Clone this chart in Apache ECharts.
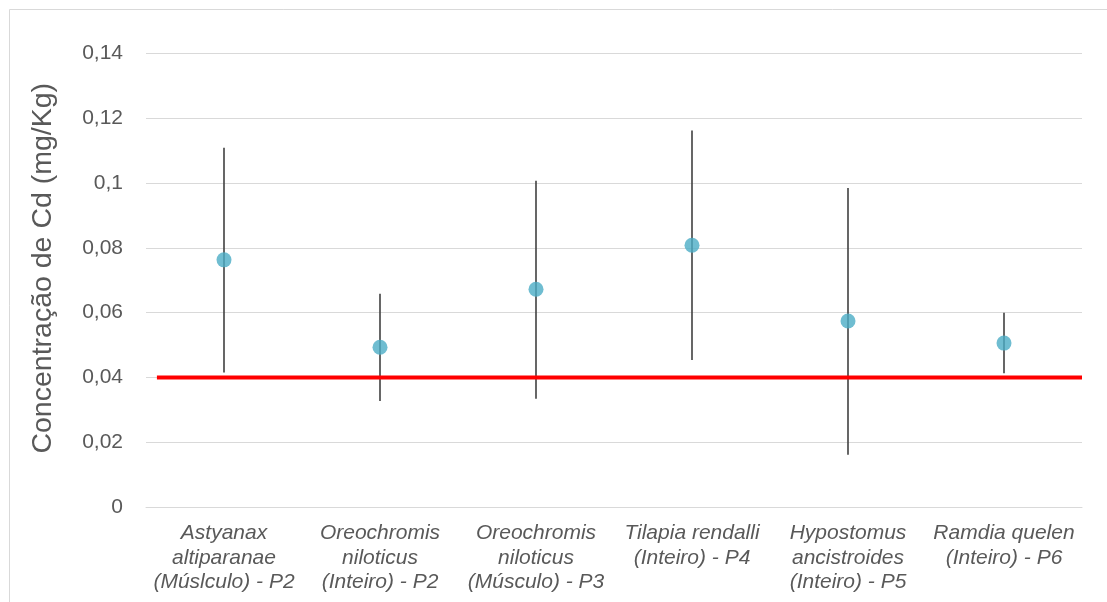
<!DOCTYPE html>
<html>
<head>
<meta charset="utf-8">
<script src="https://cdn.jsdelivr.net/npm/echarts@6/dist/echarts.min.js"></script>
<style>
  html, body { margin: 0; padding: 0; background: #ffffff; }
  #chart { width: 1107px; height: 602px; }
</style>
</head>
<body>
<div id="chart"></div>
<script>
// Species / tissue / sampling point
const categories = [
  'Astyanax\naltiparanae\n(Múslculo) - P2',
  'Oreochromis\nniloticus\n(Inteiro) - P2',
  'Oreochromis\nniloticus\n(Músculo) - P3',
  'Tilapia rendalli\n(Inteiro) - P4',
  'Hypostomus\nancistroides\n(Inteiro) - P5',
  'Ramdia quelen\n(Inteiro) - P6'
];
// Mean Cd concentration (mg/Kg)
const means = [0.0763, 0.0493, 0.0672, 0.0808, 0.0574, 0.0506];
// Lower and upper ends of the error bars
const lows  = [0.0415, 0.0327, 0.0334, 0.0454, 0.0161, 0.0413];
const highs = [0.1109, 0.0658, 0.1007, 0.1162, 0.0985, 0.0600];
// Reference limit for Cd
const limit = 0.04;
// Y axis ticks
const yMin = 0, yMax = 0.14, yStep = 0.02;

const textColor = '#595959';
const fontFamily = '"Liberation Sans", Arial, sans-serif';

const chart = echarts.init(document.getElementById('chart'), null, { renderer: 'canvas' });

const errorData = categories.map((c, i) => [i, lows[i], highs[i]]);

chart.setOption({
  animation: false,
  backgroundColor: '#ffffff',
  textStyle: { fontFamily: fontFamily },
  graphic: [{
    type: 'polyline',
    shape: { points: [[9.5, 602], [9.5, 9.5], [1107, 9.5]] },
    style: { stroke: '#d9d9d9', lineWidth: 1, fill: null },
    silent: true
  }],
  grid: { left: 146, right: 25, top: 53.5, bottom: 95, containLabel: false },
  xAxis: [{
    type: 'category',
    data: categories,
    boundaryGap: true,
    axisLine: { show: true, lineStyle: { color: '#d9d9d9', width: 1 } },
    axisTick: { show: false },
    splitLine: { show: false },
    axisLabel: {
      interval: 0,
      margin: 14,
      color: textColor,
      fontSize: 21,
      fontStyle: 'italic',
      lineHeight: 24.5,
      fontFamily: fontFamily
    }
  }, {
    // hidden linear axis spanning the six category slots, used by the limit line
    type: 'value',
    min: 0,
    max: categories.length,
    show: false
  }],
  yAxis: {
    type: 'value',
    min: yMin,
    max: yMax,
    interval: yStep,
    name: 'Concentração de Cd (mg/Kg)',
    nameLocation: 'middle',
    nameGap: 88,
    nameRotate: 90,
    nameTextStyle: { color: textColor, fontSize: 28.5, fontFamily: fontFamily, padding: [0, 0, 0, 24] },
    axisLine: { show: false },
    axisTick: { show: false },
    splitLine: { show: true, lineStyle: { color: '#d9d9d9', width: 1 } },
    axisLabel: {
      margin: 23,
      color: textColor,
      fontSize: 21,
      fontFamily: fontFamily,
      formatter: v => String(+v.toFixed(2)).replace('.', ',')
    }
  },
  series: [{
    // error bars
    type: 'custom',
    xAxisIndex: 0,
    z: 2,
    data: errorData,
    renderItem: function (params, api) {
      const x = api.value(0);
      const p1 = api.coord([x, api.value(1)]);
      const p2 = api.coord([x, api.value(2)]);
      return {
        type: 'line',
        shape: { x1: p1[0], y1: p1[1], x2: p2[0], y2: p2[1] },
        style: { stroke: '#404040', lineWidth: 1.6 }
      };
    }
  }, {
    // limit line
    type: 'line',
    xAxisIndex: 1,
    z: 3,
    symbol: 'none',
    lineStyle: { color: '#ff0000', width: 4 },
    data: [[0.07, limit], [categories.length, limit]]
  }, {
    type: 'scatter',
    xAxisIndex: 0,
    z: 4,
    symbol: 'circle',
    symbolSize: 15,
    itemStyle: { color: '#4bacc6' },
    data: means
  }]
});
</script>
</body>
</html>
